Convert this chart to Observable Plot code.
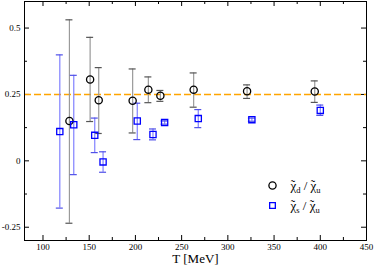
<!DOCTYPE html>
<html>
<head>
<meta charset="utf-8">
<script src="https://cdn.jsdelivr.net/npm/d3@7"></script>
<script src="https://cdn.jsdelivr.net/npm/@observablehq/plot@0.6"></script>
<style>
  html, body { margin: 0; padding: 0; background: white; }
  svg { display: block; }
</style>
</head>
<body>
<div id="chart"></div>
<script>
// ---- data ----
const dT  = [128.6, 151, 160.3, 197, 214, 227, 263, 320.8, 394];
const dV  = [0.150, 0.306, 0.228, 0.226, 0.268, 0.245, 0.268, 0.262, 0.261];
const dLo = [-0.235, 0.148, 0.103, 0.105, 0.219, 0.224, 0.202, 0.235, 0.220];
const dHi = [0.531, 0.465, 0.351, 0.346, 0.316, 0.265, 0.331, 0.286, 0.301];

const sT  = [118.2, 133.3, 156, 165, 202, 219, 231.6, 268, 326, 400];
const sV  = [0.110, 0.136, 0.096, -0.004, 0.150, 0.099, 0.144, 0.159, 0.155, 0.190];
const sLo = [-0.178, -0.052, 0.031, -0.043, 0.080, 0.079, 0.138, 0.125, 0.149, 0.171];
const sHi = [0.399, 0.322, 0.161, 0.034, 0.217, 0.120, 0.150, 0.193, 0.161, 0.210];

const refLine = [0.25];

const xMajor = [100, 150, 200, 250, 300, 350, 400, 450];
const xMinor = [125, 175, 225, 275, 325, 375, 425];
const yMajor = [0.5, 0.25, 0, -0.25];
const yMajorLabels = ["0.5", "0.25", "0", "-0.25"];
const yMinor = [0.375, 0.125, -0.125];

const xLabel = "T [MeV]";
const legendKeys = ["d", "s"];

// ---- tables ----
const dRows = dT.map((t, i) => ({T: t, v: dV[i], lo: dLo[i], hi: dHi[i]}));
const sRows = sT.map((t, i) => ({T: t, v: sV[i], lo: sLo[i], hi: sHi[i]}));

const W = 374, H = 267;
const mL = 24, mR = 8, mT = 1, mB = 27;
const fw = W - mL - mR, fh = H - mT - mB;
const font = "'Liberation Serif', 'DejaVu Serif', serif";

const capW = 3.5;
const grayBar = "#9a9a9a", grayCap = "#555555";
const blueBar = "#8080ff", blueCap = "#5050e8";

const legendDy = [-55, -35];

const plot = Plot.plot({
  width: W,
  height: H,
  marginLeft: mL,
  marginRight: mR,
  marginTop: mT,
  marginBottom: mB,
  style: {fontFamily: font, fontSize: "9px", background: "white", color: "black"},
  x: {domain: [80, 450]},
  y: {domain: [-0.3, 0.6]},
  marks: [
    // axes (labels only)
    Plot.axisX(xMajor, {tickSize: 0, tickPadding: 3, fontSize: 9, fontFamily: font, label: null, tickFormat: d => String(d)}),
    Plot.axisY(yMajor, {tickSize: 0, tickPadding: 4, fontSize: 9, fontFamily: font, label: null,
      tickFormat: d => yMajorLabels[yMajor.indexOf(d)]}),
    // inward ticks: bottom & top
    Plot.ruleX(xMajor, {x: d => d, insetTop: fh - 5, stroke: "black", strokeWidth: 1}),
    Plot.ruleX(xMinor, {x: d => d, insetTop: fh - 3, stroke: "black", strokeWidth: 1}),
    Plot.ruleX(xMajor, {x: d => d, insetBottom: fh - 5, stroke: "black", strokeWidth: 1}),
    Plot.ruleX(xMinor, {x: d => d, insetBottom: fh - 3, stroke: "black", strokeWidth: 1}),
    // inward ticks: left & right
    Plot.ruleY(yMajor, {y: d => d, insetRight: fw - 5, stroke: "black", strokeWidth: 1}),
    Plot.ruleY(yMinor, {y: d => d, insetRight: fw - 3, stroke: "black", strokeWidth: 1}),
    Plot.ruleY(yMajor, {y: d => d, insetLeft: fw - 5, stroke: "black", strokeWidth: 1}),
    Plot.ruleY(yMinor, {y: d => d, insetLeft: fw - 3, stroke: "black", strokeWidth: 1}),
    // reference line
    Plot.ruleY(refLine, {y: d => d, stroke: "#ffa500", strokeWidth: 1.6, strokeDasharray: "7,3"}),
    // error bars, chi_d
    Plot.ruleX(dRows, {x: "T", y1: "lo", y2: "hi", stroke: grayBar, strokeWidth: 1.2}),
    Plot.ruleY(dRows, {y: "lo", x1: "T", x2: "T", insetLeft: -capW, insetRight: -capW, stroke: grayCap, strokeWidth: 1.2}),
    Plot.ruleY(dRows, {y: "hi", x1: "T", x2: "T", insetLeft: -capW, insetRight: -capW, stroke: grayCap, strokeWidth: 1.2}),
    // error bars, chi_s
    Plot.ruleX(sRows, {x: "T", y1: "lo", y2: "hi", stroke: blueBar, strokeWidth: 1.2}),
    Plot.ruleY(sRows, {y: "lo", x1: "T", x2: "T", insetLeft: -capW, insetRight: -capW, stroke: blueCap, strokeWidth: 1.2}),
    Plot.ruleY(sRows, {y: "hi", x1: "T", x2: "T", insetLeft: -capW, insetRight: -capW, stroke: blueCap, strokeWidth: 1.2}),
    // markers
    Plot.dot(dRows, {x: "T", y: "v", r: 3.6, stroke: "black", strokeWidth: 1.3, fill: "none"}),
    Plot.dot(sRows, {x: "T", y: "v", symbol: "square", r: 3.5, stroke: "#0000ff", strokeWidth: 1.3, fill: "none"}),
    // frame
    Plot.frame({stroke: "black", strokeWidth: 1}),
    // x axis title
    Plot.text([xLabel], {text: d => d, frameAnchor: "bottom", lineAnchor: "middle", dy: 18.8, fontSize: 13, fontFamily: font, fill: "black"}),
    // legend
    Plot.dot([legendKeys[0]], {frameAnchor: "bottom-right", dx: -94, dy: legendDy[0], r: 3.6, stroke: "black", strokeWidth: 1.3, fill: "none"}),
    Plot.dot([legendKeys[1]], {frameAnchor: "bottom-right", dx: -94, dy: legendDy[1], symbol: "square", r: 3.2, stroke: "#0000ff", strokeWidth: 1.3, fill: "none"}),
    Plot.text([legendKeys[0]], {text: d => d, frameAnchor: "bottom-right", dx: -76, dy: legendDy[0],
      textAnchor: "start", lineAnchor: "middle", fontSize: 13, fontFamily: font, fill: "black"}),
    Plot.text([legendKeys[1]], {text: d => d, frameAnchor: "bottom-right", dx: -76, dy: legendDy[1],
      textAnchor: "start", lineAnchor: "middle", fontSize: 13, fontFamily: font, fill: "black"})
  ]
});

document.getElementById("chart").appendChild(plot);

// Turn the legend labels into χ̃_d / χ̃_u and χ̃_s / χ̃_u with real subscripts
d3.select(plot).selectAll("text").each(function() {
  const t = d3.select(this);
  const s = t.text();
  if (!legendKeys.includes(s)) return;
  if (t.selectAll("tspan").size() > 0) return;
  // [text, dx, dy, font-size]
  const parts = [
    ["\u03C7", 0, 0, 13],
    ["\u02DC", -5.6, -1, 13],
    [s, 1.2, 4, 8.5],
    [" / ", 0, -3, 13],
    ["\u03C7", 0, 0, 13],
    ["\u02DC", -5.6, -1, 13],
    ["u", 1.2, 4, 8.5]
  ];
  t.text(null);
  parts.forEach(([str, dx, dy, fs]) => {
    t.append("tspan").attr("dx", dx).attr("dy", dy).attr("font-size", fs)
      .attr("fill", "black").attr("font-family", font).text(str);
  });
});
</script>
</body>
</html>
